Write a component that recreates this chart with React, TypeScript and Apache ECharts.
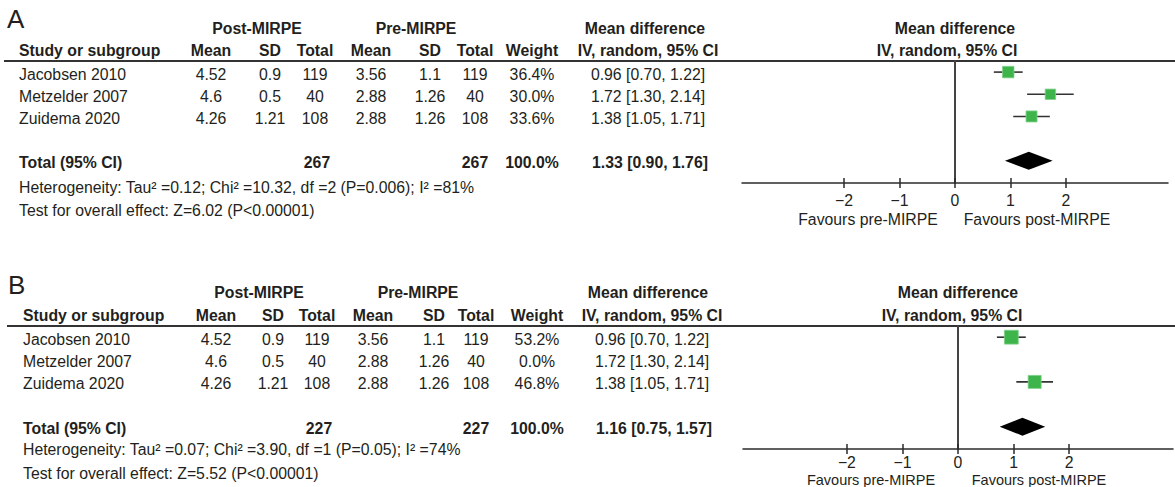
import React, { useEffect, useRef } from "react";
import * as echarts from "echarts";

// ---------- data ----------
const studies = ["Jacobsen 2010", "Metzelder 2007", "Zuidema 2020"];
const postMean = ["4.52", "4.6", "4.26"];
const postSD = ["0.9", "0.5", "1.21"];
const postTotal = [119, 40, 108];
const preMean = ["3.56", "2.88", "2.88"];
const preSD = ["1.1", "1.26", "1.26"];
const preTotal = [119, 40, 108];
const meanDiff = [0.96, 1.72, 1.38];
const ciLow = [0.7, 1.3, 1.05];
const ciHigh = [1.22, 2.14, 1.71];

const weightA = [36.4, 30.0, 33.6];
const weightB = [53.2, 0.0, 46.8];

const totalPostA = 267;
const totalPreA = 267;
const totalMdA = [1.33, 0.9, 1.76];
const totalPostB = 227;
const totalPreB = 227;
const totalMdB = [1.16, 0.75, 1.57];

const hetA = "Heterogeneity: Tau² =0.12; Chi² =10.32, df =2 (P=0.006); I² =81%";
const testA = "Test for overall effect: Z=6.02 (P<0.00001)";
const hetB = "Heterogeneity: Tau² =0.07; Chi² =3.90, df =1 (P=0.05); I² =74%";
const testB = "Test for overall effect: Z=5.52 (P<0.00001)";

const axisTicks = [-2, -1, 0, 1, 2];

// ---------- styling / layout ----------
const FONT = "'Liberation Sans', Arial, Helvetica, sans-serif";
const FS = 15.8;
const INK = "#231f20";
const GREEN = "#3db54a";
const TOTAL_ROW = 4;

const panels = [
  {
    label: "A", labelX: 7, labelY: 19,
    lineLeft: 4, lineY: 61,
    grid: { left: 742, top: 61, width: 426, height: 122 },
    xRange: 3.84, tickMargin: 9, favSize: FS,
    weights: weightA, totPost: totalPostA, totPre: totalPreA, totMd: totalMdA,
    het: hetA, test: testA,
    c: { study: 19, pm: 211, psd: 270, pt: 315, qm: 371, qsd: 430, qt: 475, w: 532, ci: 648,
      postHead: 257, preHead: 416, mdHead: 645, fh1: 955, fh2: 947, favPre: 868, favPost: 1037 },
    y: { group: 28, head: 50, het: 187, test: 210, fav: 219 },
  },
  {
    label: "B", labelX: 8, labelY: 285,
    lineLeft: 7, lineY: 326,
    grid: { left: 743, top: 326, width: 430, height: 123 },
    xRange: 3.87, tickMargin: 5, favSize: 14.5,
    weights: weightB, totPost: totalPostB, totPre: totalPreB, totMd: totalMdB,
    het: hetB, test: testB,
    c: { study: 23, pm: 216, psd: 273, pt: 317, qm: 373, qsd: 434, qt: 476, w: 537, ci: 652,
      postHead: 259, preHead: 418, mdHead: 648, fh1: 958, fh2: 952, favPre: 871, favPost: 1039 },
    y: { group: 292, head: 315, het: 449, test: 473, fav: 480 },
  },
];

function txt(text: string, x: number, y: number, align = "center", bold = false, size = FS) {
  return {
    type: "text",
    x,
    y,
    silent: true,
    style: {
      text,
      align,
      verticalAlign: "middle",
      textAlign: align,
      textVerticalAlign: "middle",
      fontSize: size,
      fontWeight: bold ? "bold" : "normal",
      fontFamily: FONT,
      fill: INK,
    },
  };
}

const fmtCI = (m: number, l: number, h: number) => `${m.toFixed(2)} [${l.toFixed(2)}, ${h.toFixed(2)}]`;
const minusFmt = (v: number) => (v < 0 ? "\u2212" + Math.abs(v) : String(v));

function buildOption() {
  const grid: any[] = [];
  const xAxis: any[] = [];
  const yAxis: any[] = [];
  const series: any[] = [];
  const graphic: any[] = [];

  panels.forEach((p, pi) => {
    grid.push({ ...p.grid, containLabel: false });
    const rowH = p.grid.height / 5.5;
    const rowY = (i: number) => p.grid.top + (i + 0.5) * rowH + 2;

    const baseX = {
      type: "value",
      gridIndex: pi,
      min: -p.xRange,
      max: p.xRange,
      position: "bottom",
      splitLine: { show: false },
    };
    xAxis.push({
      ...baseX,
      axisLine: { show: true, onZero: false, lineStyle: { color: "#2b2b2b", width: 1.5 } },
      axisTick: { show: true, inside: false, length: 5, customValues: axisTicks, lineStyle: { color: "#2b2b2b", width: 1.5 } },
      axisLabel: {
        show: true,
        customValues: axisTicks,
        formatter: minusFmt,
        margin: p.tickMargin,
        fontSize: FS,
        fontFamily: FONT,
        color: INK,
      },
    });
    xAxis.push({
      ...baseX,
      axisLine: { show: false, onZero: false },
      axisTick: { show: true, inside: true, length: 5, customValues: axisTicks, lineStyle: { color: "#2b2b2b", width: 1.5 } },
      axisLabel: { show: false },
    });
    yAxis.push({
      type: "value",
      gridIndex: pi,
      min: -0.5,
      max: 5,
      inverse: true,
      axisLine: { show: true, onZero: true, lineStyle: { color: "#444", width: 2 } },
      axisTick: { show: false },
      axisLabel: { show: false },
      splitLine: { show: false },
    });

    // study squares + CI lines
    const studyData = studies
      .map((_, i) => [meanDiff[i], ciLow[i], ciHigh[i], i, p.weights[i]])
      .filter((d) => d[4] > 0);
    series.push({
      type: "custom",
      xAxisIndex: pi * 2,
      yAxisIndex: pi,
      clip: false,
      encode: { x: [0, 1, 2], y: 3 },
      data: studyData,
      renderItem: (_params: any, api: any) => {
        const r = api.value(3);
        const c = api.coord([api.value(0), r]);
        const l = api.coord([api.value(1), r]);
        const h = api.coord([api.value(2), r]);
        const s = 1.9 * Math.sqrt(api.value(4));
        return {
          type: "group",
          children: [
            { type: "line", shape: { x1: l[0], y1: l[1], x2: h[0], y2: h[1] }, style: { stroke: "#333", lineWidth: 1.6 } },
            {
              type: "rect",
              shape: { x: c[0] - s / 2, y: c[1] - s / 2, width: s, height: s },
              style: { fill: GREEN, stroke: "#7fcf8a", lineWidth: 0.8 },
            },
          ],
        };
      },
    });

    // total diamond
    series.push({
      type: "custom",
      xAxisIndex: pi * 2,
      yAxisIndex: pi,
      clip: false,
      encode: { x: [0, 1, 2], y: 3 },
      data: [[p.totMd[0], p.totMd[1], p.totMd[2], TOTAL_ROW]],
      renderItem: (_params: any, api: any) => {
        const r = api.value(3);
        const c = api.coord([api.value(0), r]);
        const l = api.coord([api.value(1), r]);
        const h = api.coord([api.value(2), r]);
        const hh = 9;
        return {
          type: "polygon",
          shape: { points: [[l[0], c[1]], [c[0], c[1] - hh], [h[0], c[1]], [c[0], c[1] + hh]] },
          style: { fill: "#000" },
        };
      },
    });

    // header line
    graphic.push({
      type: "line",
      silent: true,
      shape: { x1: p.lineLeft, y1: p.lineY, x2: 1175, y2: p.lineY },
      style: { stroke: "#333", lineWidth: 2 },
    });

    const c = p.c;
    graphic.push(txt(p.label, p.labelX, p.labelY, "left", false, 26));
    graphic.push(txt("Post-MIRPE", c.postHead, p.y.group, "center", true));
    graphic.push(txt("Pre-MIRPE", c.preHead, p.y.group, "center", true));
    graphic.push(txt("Mean difference", c.mdHead, p.y.group, "center", true));
    graphic.push(txt("Mean difference", c.fh1, p.y.group, "center", true));
    graphic.push(txt("Study or subgroup", c.study, p.y.head, "left", true));
    graphic.push(txt("Mean", c.pm, p.y.head, "center", true));
    graphic.push(txt("SD", c.psd, p.y.head, "center", true));
    graphic.push(txt("Total", c.pt, p.y.head, "center", true));
    graphic.push(txt("Mean", c.qm, p.y.head, "center", true));
    graphic.push(txt("SD", c.qsd, p.y.head, "center", true));
    graphic.push(txt("Total", c.qt, p.y.head, "center", true));
    graphic.push(txt("Weight", c.w, p.y.head, "center", true));
    graphic.push(txt("IV, random, 95% CI", c.ci, p.y.head, "center", true));
    graphic.push(txt("IV, random, 95% CI", c.fh2, p.y.head, "center", true));

    studies.forEach((name, i) => {
      const y = rowY(i);
      graphic.push(txt(name, c.study, y, "left"));
      graphic.push(txt(postMean[i], c.pm, y));
      graphic.push(txt(postSD[i], c.psd, y));
      graphic.push(txt(String(postTotal[i]), c.pt, y));
      graphic.push(txt(preMean[i], c.qm, y));
      graphic.push(txt(preSD[i], c.qsd, y));
      graphic.push(txt(String(preTotal[i]), c.qt, y));
      graphic.push(txt(p.weights[i].toFixed(1) + "%", c.w, y));
      graphic.push(txt(fmtCI(meanDiff[i], ciLow[i], ciHigh[i]), c.ci, y));
    });

    const ty = rowY(TOTAL_ROW);
    const wSum = p.weights.reduce((a, b) => a + b, 0);
    graphic.push(txt("Total (95% CI)", c.study, ty, "left", true));
    graphic.push(txt(String(p.totPost), c.pt + 2, ty, "center", true));
    graphic.push(txt(String(p.totPre), c.qt, ty, "center", true));
    graphic.push(txt(wSum.toFixed(1) + "%", c.w, ty, "center", true));
    graphic.push(txt(fmtCI(p.totMd[0], p.totMd[1], p.totMd[2]), c.ci + 2, ty, "center", true));

    graphic.push(txt(p.het, c.study, p.y.het, "left"));
    graphic.push(txt(p.test, c.study, p.y.test, "left"));

    graphic.push(txt("Favours pre-MIRPE", c.favPre, p.y.fav, "center", false, p.favSize));
    graphic.push(txt("Favours post-MIRPE", c.favPost, p.y.fav, "center", false, p.favSize));
  });

  return {
    animation: false,
    backgroundColor: "#ffffff",
    grid,
    xAxis,
    yAxis,
    series,
    graphic: { elements: graphic },
  };
}

export default function App() {
  const ref = useRef<HTMLDivElement>(null);
  useEffect(() => {
    if (!ref.current) return;
    const chart = echarts.init(ref.current, null, { renderer: "svg" });
    chart.setOption(buildOption() as any);
    return () => chart.dispose();
  }, []);
  return (
    <div
      ref={ref}
      style={{ position: "fixed", left: 0, top: 0, width: 1175, height: 487, background: "#fff" }}
    />
  );
}
